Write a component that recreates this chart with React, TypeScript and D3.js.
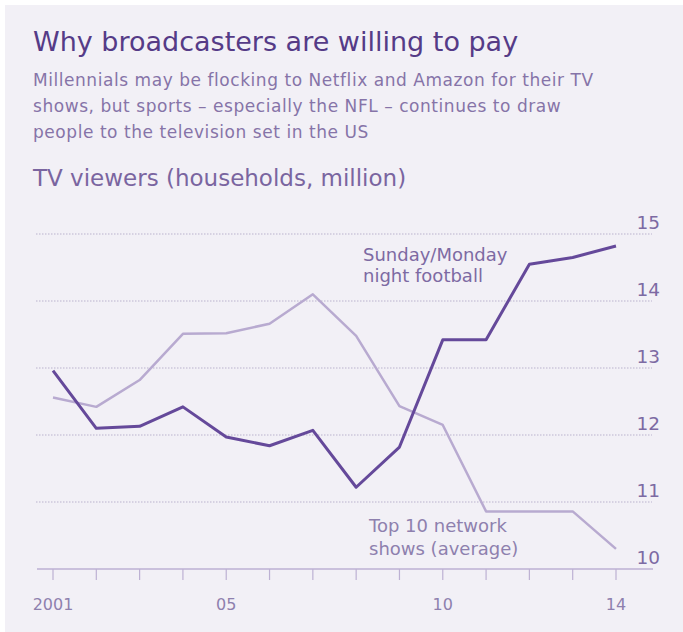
import React from "react";
import * as d3 from "d3";

const years = [2001, 2002, 2003, 2004, 2005, 2006, 2007, 2008, 2009, 2010, 2011, 2012, 2013, 2014];
const footballValues = [12.96, 12.1, 12.13, 12.42, 11.97, 11.84, 12.07, 11.22, 11.82, 13.42, 13.42, 14.55, 14.65, 14.82];
const networkValues = [12.56, 12.42, 12.82, 13.51, 13.52, 13.66, 14.1, 13.48, 12.43, 12.15, 10.86, 10.86, 10.86, 10.3];
const yTicks = [10, 11, 12, 13, 14, 15];
const gridTicks = [11, 12, 13, 14, 15];
const xLabelYears = [2001, 2005, 2010, 2014];
const xLabelTexts = ["2001", "05", "10", "14"];

const title = "Why broadcasters are willing to pay";
const subtitleLines = [
  "Millennials may be flocking to Netflix and Amazon for their TV",
  "shows, but sports \u2013 especially the NFL \u2013 continues to draw",
  "people to the television set in the US",
];
const unitLabel = "TV viewers (households, million)";
const footballLabel = ["Sunday/Monday", "night football"];
const networkLabel = ["Top 10 network", "shows (average)"];

const FONT = "'DejaVu Sans', 'Noto Sans', sans-serif";

export default function App() {
  const x = d3.scaleLinear().domain([2001, 2014]).range([53, 616]);
  const y = d3.scaleLinear().domain([10, 15]).range([569, 234]);
  const line = d3
    .line<number>()
    .x((_, i) => x(years[i]))
    .y((d) => y(d));

  return (
    <svg
      width={683}
      height={632}
      style={{ position: "absolute", left: 0, top: 0, fontFamily: FONT }}
    >
      <rect x={5} y={5} width={678} height={627} fill="#f2f0f6" />
      <text x={33} y={51} fontSize={27} fill="#553b87">
        {title}
      </text>
      {subtitleLines.map((t, i) => (
        <text key={i} x={33} y={86 + i * 26} fontSize={17} fill="#8674a8" letterSpacing={0.55}>
          {t}
        </text>
      ))}
      <text x={33} y={186} fontSize={23} fill="#7a65a0">
        {unitLabel}
      </text>

      {gridTicks.map((v) => (
        <line
          key={v}
          x1={36}
          x2={652}
          y1={y(v)}
          y2={y(v)}
          stroke="#cdc6db"
          strokeWidth={1.5}
          strokeDasharray="1.5,1.5"
        />
      ))}
      {yTicks.map((v) => (
        <text key={v} x={660} y={y(v) - 5} fontSize={18.5} textAnchor="end" fill="#7d6aa3">
          {v}
        </text>
      ))}

      <line x1={37} x2={653} y1={y(10)} y2={y(10)} stroke="#bdb1d3" strokeWidth={1.5} />
      {years.map((yr) => (
        <line key={yr} x1={x(yr)} x2={x(yr)} y1={y(10)} y2={y(10) + 11} stroke="#bdb1d3" strokeWidth={1.2} />
      ))}
      {xLabelYears.map((yr, i) => (
        <text key={yr} x={x(yr)} y={610} fontSize={16} textAnchor="middle" fill="#8e80ae">
          {xLabelTexts[i]}
        </text>
      ))}

      <path d={line(networkValues) || ""} fill="none" stroke="#b8aad0" strokeWidth={2.5} strokeLinejoin="round" />
      <path d={line(footballValues) || ""} fill="none" stroke="#65499a" strokeWidth={3} strokeLinejoin="round" />

      {footballLabel.map((t, i) => (
        <text key={i} x={363} y={261 + i * 21} fontSize={18} fill="#7d6aa3">
          {t}
        </text>
      ))}
      {networkLabel.map((t, i) => (
        <text key={i} x={369} y={532 + i * 23} fontSize={18} fill="#8e80ae">
          {t}
        </text>
      ))}
    </svg>
  );
}
